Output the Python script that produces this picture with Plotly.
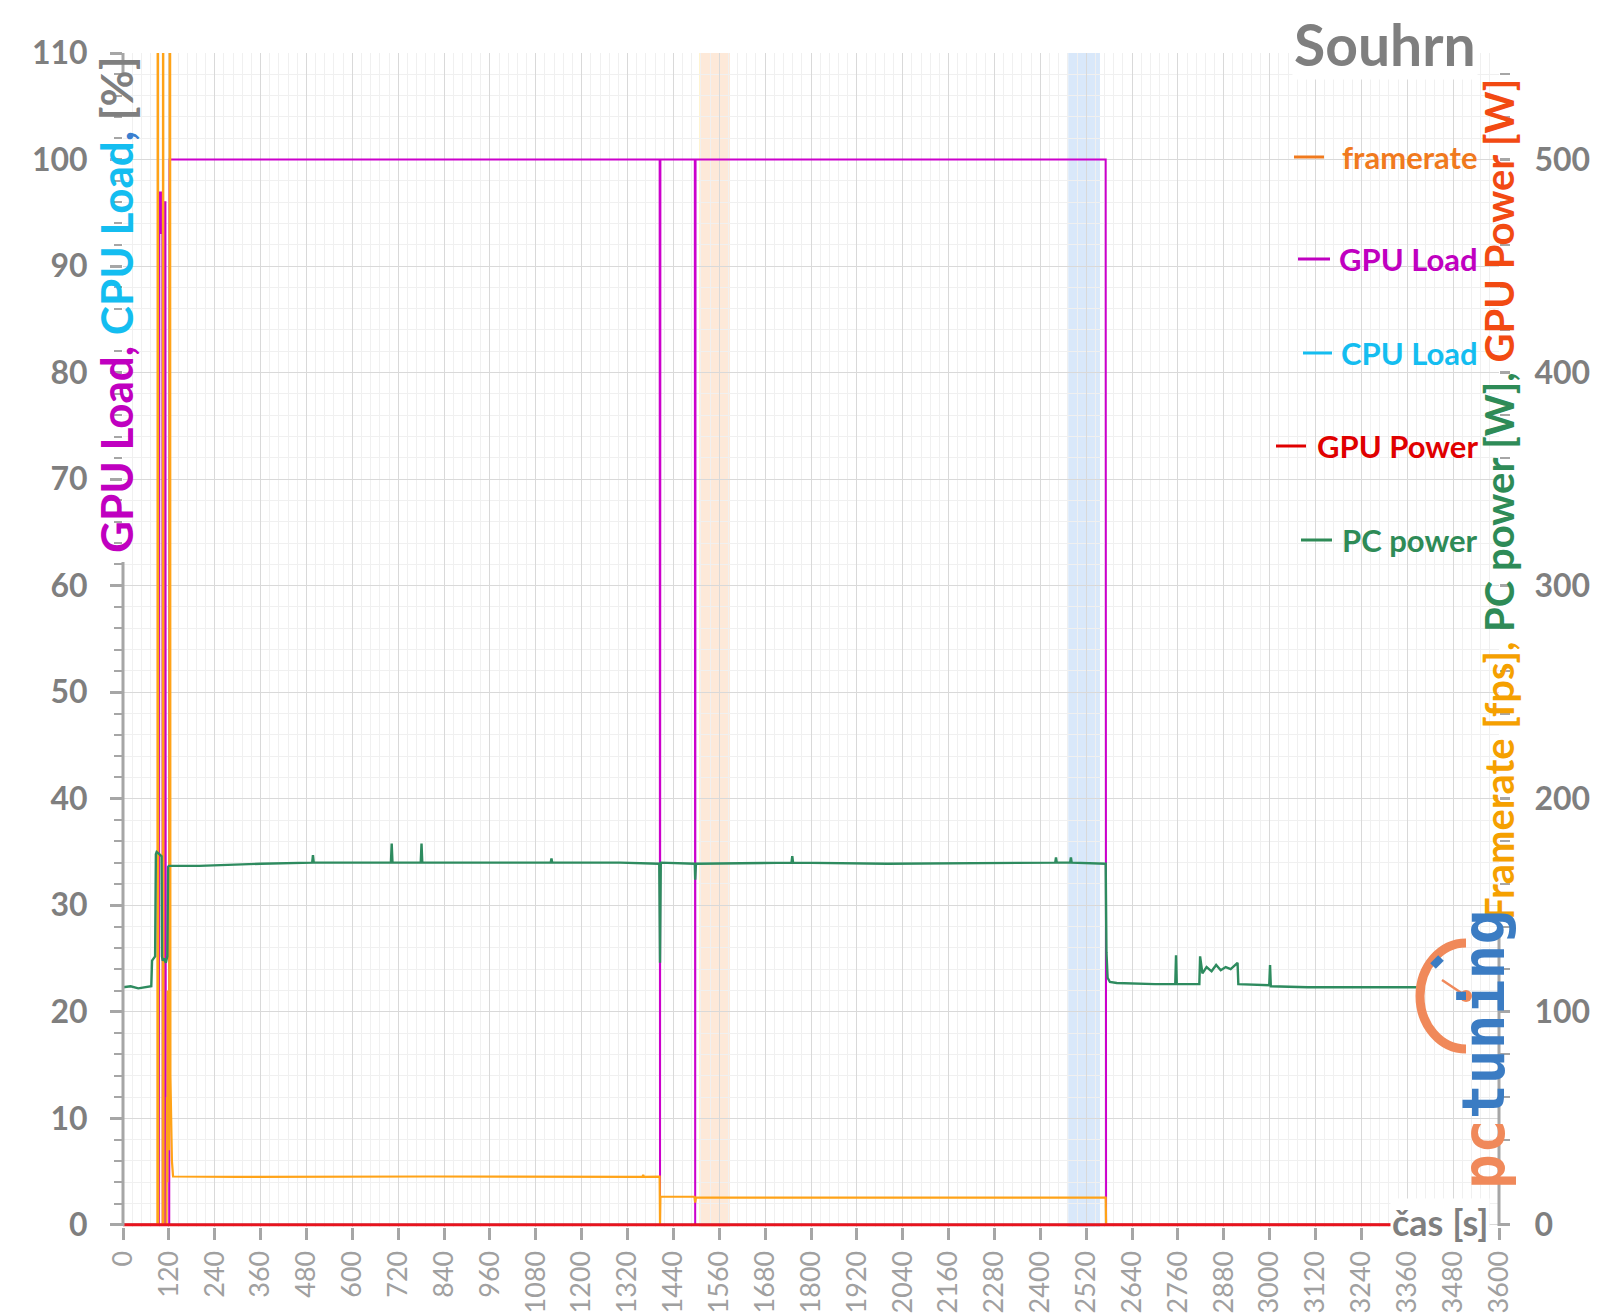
import plotly.graph_objects as go

# ---------------- data ----------------
pc_time = [0, 20, 40, 60, 74, 76, 80, 84, 86, 88, 95, 101, 102, 104, 108, 112, 116, 118, 120,
           200, 360, 495, 497, 499, 600, 701, 703, 705, 779, 781, 783, 1000, 1119, 1121, 1123,
           1300, 1403, 1405, 1407, 1496, 1497, 1499, 1749, 1751, 1753, 2000, 2439, 2441, 2443,
           2478, 2480, 2482, 2571, 2573, 2576, 2582, 2600, 2700, 2753, 2755, 2757, 2816, 2818,
           2824, 2835, 2848, 2860, 2872, 2885, 2898, 2910, 2916, 2918, 2999, 3001, 3003, 3100,
           3250, 3400]
pc_power = [111.5, 112, 111, 111.5, 112, 124, 125, 126, 174, 175, 174, 173, 126, 124, 125, 123, 126, 168, 168.5,
            168.5, 169.5, 170, 173.5, 170, 170, 170, 179, 170, 170, 179, 170, 170, 170, 172, 170,
            170, 169.5, 123, 170, 169.5, 162, 169.5, 170, 173, 170, 169.5, 170, 172.5, 170,
            170, 172.5, 170, 169.5, 128, 116, 114, 113.5, 113, 113, 126.5, 113, 113, 126,
            118, 121, 119, 122, 119.5, 121, 120, 122, 123, 113, 112.5, 122, 112, 111.5,
            111.5, 111.5]

fps_time = [0, 90, 91, 92, 104, 105, 106, 114, 115, 116, 117, 118, 119, 120, 121, 122, 123, 124,
            126, 128, 131, 300, 800, 1300, 1359, 1361, 1363, 1404, 1405, 1406, 1495, 1497, 1499,
            2000, 2570, 2571, 2572, 3400]
framerate = [0, 0, 800, 0, 0, 800, 0, 0, 60, 20, 110, 40, 80, 35, 60, 800, 800, 70,
             45, 30, 22.7, 22.5, 22.7, 22.5, 22.5, 23.5, 22.5, 22.6, 0, 13.2, 13.2, 10.5, 12.8,
             12.7, 12.8, 13.2, 0, 0]

gpu_time = [0, 94, 95, 96, 97, 98, 99, 100, 101, 102, 103, 104, 108, 109, 111, 112, 121, 122,
            1404, 1405, 1406, 1496, 1497, 1498, 2571, 2572, 3400]
gpu_load = [0, 0, 97, 93, 97, 93, 96, 93, 97, 94, 93, 0, 0, 96, 96, 0, 0, 100,
            100, 0, 100, 100, 0, 100, 100, 0, 0]

flat_time = [0, 3400]
cpu_load = [0, 0]
gpu_power = [0, 0]

orange_band = [1510, 1588]
blue_band = [2473, 2556]

legend_names = ["framerate", "GPU Load", "CPU Load", "GPU Power", "PC power"]
legend_colors = ["#F07A1E", "#C000C0", "#14BDF0", "#E00000", "#2E8B57"]

# ---------------- layout geometry ----------------
W, H = 1600, 1314
ML, MR, MT, MB = 123, 101, 53, 87
PW = W - ML - MR
PH = H - MT - MB


def px(x):
    return (x - ML) / PW


def py(y):
    return (H - MB - y) / PH


GRAY = "#7F7F7F"
LGRAY = "#A6A6A6"
FONT = "Lato"

fig = go.Figure()

fig.add_trace(go.Scatter(x=flat_time, y=cpu_load, name="CPU Load", mode="lines",
                         line=dict(color="#14BDF0", width=2), yaxis="y"))
fig.add_trace(go.Scatter(x=fps_time, y=framerate, name="framerate", mode="lines",
                         line=dict(color="#FFA318", width=2.2), yaxis="y2"))
fig.add_trace(go.Scatter(x=pc_time, y=pc_power, name="PC power", mode="lines",
                         line=dict(color="#2E8B5F", width=2.4), yaxis="y2"))
fig.add_trace(go.Scatter(x=gpu_time, y=gpu_load, name="GPU Load", mode="lines",
                         line=dict(color="#CC00CC", width=2), yaxis="y"))
fig.add_trace(go.Scatter(x=flat_time, y=gpu_power, name="GPU Power", mode="lines",
                         line=dict(color="#E8141E", width=3), yaxis="y2"))

shapes = [
    dict(type="rect", xref="x", yref="paper", x0=orange_band[0], x1=orange_band[1], y0=0, y1=1,
         fillcolor="rgba(250,200,160,0.40)", line=dict(width=0), layer="between"),
    dict(type="rect", xref="x", yref="paper", x0=blue_band[0], x1=blue_band[1], y0=0, y1=1,
         fillcolor="rgba(170,205,245,0.45)", line=dict(width=0), layer="between"),
    dict(type="line", xref="x", yref="paper", x0=orange_band[0], x1=orange_band[0], y0=0, y1=1,
         line=dict(color="rgba(255,215,90,0.8)", width=1), layer="between"),
    # visible parts of the two vertical axis lines (hidden behind the axis titles above)
    dict(type="line", xref="paper", yref="paper", x0=0, x1=0, y0=py(1226), y1=py(562),
         line=dict(color=LGRAY, width=3)),
    dict(type="line", xref="paper", yref="paper", x0=0, x1=0, y0=py(75), y1=py(53),
         line=dict(color=LGRAY, width=3)),
    dict(type="line", xref="paper", yref="paper", x0=1, x1=1, y0=py(1226), y1=py(922),
         line=dict(color=LGRAY, width=3)),
]

annotations = []

# legend (manual)
leg_y = [157, 259, 353, 446, 540]
leg_mx = [(1294, 1324), (1298, 1330), (1303, 1332), (1276, 1306), (1301, 1332)]
for name, col, yy, (a, b) in zip(legend_names, legend_colors, leg_y, leg_mx):
    annotations.append(dict(text=name, x=px(1480), y=py(yy), xref="paper", yref="paper",
                            xanchor="right", yanchor="middle", showarrow=False,
                            font=dict(family=FONT, size=31, color=col, weight="bold")))
    shapes.append(dict(type="line", xref="paper", yref="paper", x0=px(a), x1=px(b),
                       y0=py(yy), y1=py(yy), line=dict(color=col, width=3)))

# title
annotations.append(dict(text="Souhrn", x=px(1478), y=py(44), xref="paper", yref="paper",
                        xanchor="right", yanchor="middle", showarrow=False, bgcolor="white",
                        font=dict(family=FONT, size=57, color=GRAY, weight="bold")))

# left axis title
annotations.append(dict(
    text='<span style="color:#C000C0">GPU Load, </span><span style="color:#14BDF0">CPU Load</span>'
         '<span style="color:#3A7FD0">, </span><span style="color:#7F7F7F">[%]</span>',
    x=px(116), y=py(305), xref="paper", yref="paper", xanchor="center", yanchor="middle",
    textangle=-90, showarrow=False, borderpad=0,
    font=dict(family=FONT, size=44, weight="bold")))

# right axis title
annotations.append(dict(
    text='<span style="color:#F5A000">Framerate [fps], </span><span style="color:#2E8B57">PC power [W], </span>'
         '<span style="color:#F24A12">GPU Power [W]</span>',
    x=px(1499), y=py(500), xref="paper", yref="paper", xanchor="center", yanchor="middle",
    textangle=-90, showarrow=False, borderpad=0,
    font=dict(family=FONT, size=40, weight="bold")))

# x axis title
annotations.append(dict(text="čas [s]", x=px(1390), y=py(1222), xref="paper", yref="paper",
                        xanchor="left", yanchor="middle", showarrow=False, bgcolor="white",
                        font=dict(family=FONT, size=36, color=GRAY, weight="bold")))

# logo
annotations.append(dict(
    text='<span style="color:#F0895A">pc</span><span style="color:#3B7CC3">tuning</span>',
    x=px(1484), y=py(1050), xref="paper", yref="paper", xanchor="center", yanchor="middle",
    textangle=-90, showarrow=False,
    font=dict(family="DejaVu Sans Mono", size=58, weight="bold")))

rx, ry, k = 46, 53, 0.5523
arc = (f"M 0,{ry} C {-k*rx},{ry} {-rx},{k*ry} {-rx},0 "
       f"C {-rx},{-k*ry} {-k*rx},{-ry} 0,{-ry}")
shapes.append(dict(type="path", xref="paper", yref="paper", xsizemode="pixel", ysizemode="pixel",
                   xanchor=px(1466), yanchor=py(996), path=arc,
                   line=dict(color="#F0895A", width=9)))
shapes.append(dict(type="line", xref="paper", yref="paper", xsizemode="pixel", ysizemode="pixel",
                   xanchor=px(1466), yanchor=py(996), x0=-25, y0=38, x1=-33, y1=30,
                   line=dict(color="#3B7CC3", width=8)))
shapes.append(dict(type="line", xref="paper", yref="paper", xsizemode="pixel", ysizemode="pixel",
                   xanchor=px(1466), yanchor=py(996), x0=0, y0=0, x1=-24, y1=16,
                   line=dict(color="#F0895A", width=2.5)))
shapes.append(dict(type="circle", xref="paper", yref="paper", xsizemode="pixel", ysizemode="pixel",
                   xanchor=px(1466), yanchor=py(996), x0=-6, y0=-6, x1=6, y1=6,
                   fillcolor="#F0895A", line=dict(width=0)))

fig.update_layout(
    width=W, height=H, autosize=False,
    margin=dict(l=ML, r=MR, t=MT, b=MB, autoexpand=False),
    plot_bgcolor="white", paper_bgcolor="white",
    showlegend=False,
    shapes=shapes, annotations=annotations,
    xaxis=dict(range=[0, 3600], tick0=0, dtick=120, tickangle=-90, automargin=False,
               showgrid=True, gridcolor="#D9D9D9", gridwidth=1, zeroline=False, showline=False,
               ticks="outside", ticklen=12, tickwidth=3, tickcolor=LGRAY,
               tickfont=dict(family=FONT, size=27, color="#A0A0A0"),
               minor=dict(dtick=24, showgrid=True, gridcolor="#F0F0F0", gridwidth=1)),
    yaxis=dict(range=[-0.2, 110], tick0=0, dtick=10, automargin=False,
               showgrid=True, gridcolor="#D9D9D9", gridwidth=1, zeroline=False,
               showline=False,
               ticks="outside", ticklen=12, tickwidth=3, tickcolor=LGRAY,
               ticklabelstandoff=16,
               tickfont=dict(family=FONT, size=32, color=GRAY, weight="bold"),
               minor=dict(dtick=2, showgrid=True, gridcolor="#F0F0F0", gridwidth=1,
                          ticks="outside", ticklen=8, tickwidth=2, tickcolor=LGRAY)),
    yaxis2=dict(range=[-1, 550], tick0=0, dtick=100, overlaying="y", side="right",
                automargin=False,
                showgrid=False, zeroline=False,
                showline=False,
                ticks="outside", ticklen=10, tickwidth=3, tickcolor=LGRAY,
                ticklabelstandoff=18,
                tickfont=dict(family=FONT, size=32, color=GRAY, weight="bold"),
                minor=dict(dtick=20, ticks="outside", ticklen=10, tickwidth=2, tickcolor=LGRAY)),
)

fig.write_html("out.html")
